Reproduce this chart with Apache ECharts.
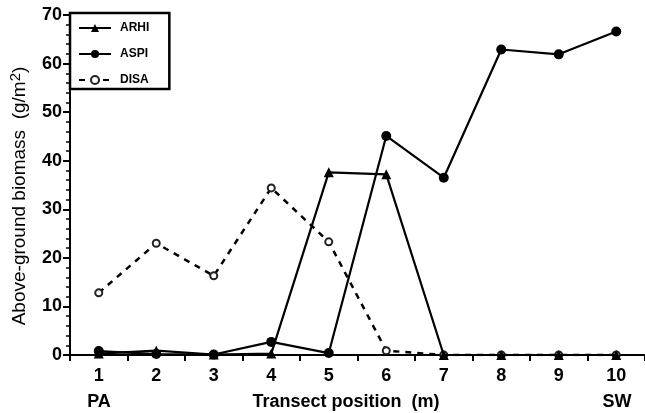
<!DOCTYPE html>
<html>
<head>
<meta charset="utf-8">
<script src="https://cdn.jsdelivr.net/npm/echarts@6/dist/echarts.min.js"></script>
<style>
  html, body { margin: 0; padding: 0; background: #fff; }
  #chart { width: 645px; height: 413px; }
</style>
</head>
<body>
<div id="chart"></div>
<script>
// Transect positions (m) along the x axis
const positions = ['1', '2', '3', '4', '5', '6', '7', '8', '9', '10'];

// Above-ground biomass (g/m2) per species at each position
const arhi = [0.3, 0.9, 0.1, 0.3, 37.6, 37.2, 0, 0, 0, 0];
const aspi = [0.8, 0.2, 0.1, 2.7, 0.4, 45.1, 36.5, 62.9, 61.9, 66.6];
const disa = [12.8, 23.0, 16.3, 34.4, 23.3, 0.9, 0, 0, 0, 0];

// Y-axis range and step
const yMin = 0, yMax = 70, yStep = 10;

const FONT = 'Liberation Sans, Arial, Helvetica, sans-serif';

const chart = echarts.init(document.getElementById('chart'), null, { renderer: 'canvas' });

chart.setOption({
  animation: false,
  backgroundColor: '#fff',
  textStyle: { fontFamily: FONT, color: '#000' },
  grid: { left: 70, right: 0, top: 15, bottom: 58, containLabel: false },
  legend: {
    orient: 'vertical',
    left: 70, top: 13,
    data: ['ARHI', 'ASPI', 'DISA'],
    itemWidth: 32, itemHeight: 10, itemGap: 14,
    padding: [9, 20, 3, 8],
    borderColor: '#000', borderWidth: 2.5, borderRadius: 0,
    backgroundColor: '#fff',
    textStyle: { fontFamily: FONT, fontWeight: 'bold', fontSize: 12, color: '#000', padding: [0, 0, 0, 4] },
    selectedMode: false
  },
  xAxis: {
    type: 'category',
    data: positions,
    boundaryGap: true,
    axisLine: { show: true, lineStyle: { color: '#000', width: 2 } },
    axisTick: { show: true, interval: 0, alignWithLabel: false, length: 6, inside: false,
                lineStyle: { color: '#000', width: 2 } },
    axisLabel: { interval: 0, margin: 12, fontFamily: FONT, fontWeight: 'bold', fontSize: 18, color: '#000' },
    splitLine: { show: false }
  },
  yAxis: {
    type: 'value',
    min: yMin, max: yMax, interval: yStep,
    axisLine: { show: true, lineStyle: { color: '#000', width: 2 } },
    axisTick: { show: true, length: 7, inside: false, lineStyle: { color: '#000', width: 2 } },
    minorTick: { show: true, splitNumber: 5, length: 4, lineStyle: { color: '#000', width: 1.5 } },
    axisLabel: { margin: 8, fontFamily: FONT, fontWeight: 'bold', fontSize: 18, color: '#000' },
    splitLine: { show: false },
    minorSplitLine: { show: false }
  },
  graphic: [
    {
      type: 'text', x: 20, y: 196, rotation: Math.PI / 2,
      style: {
        text: 'Above-ground biomass  (g/m{s|2})',
        fill: '#000', font: '19px ' + FONT,
        align: 'center', verticalAlign: 'middle',
        rich: { s: { fontSize: 15, verticalAlign: 'top', padding: [0, 0, 9, 0], fontFamily: FONT } }
      }
    },
    { type: 'text', x: 99, y: 402, style: { text: 'PA', fill: '#000', font: 'bold 18px ' + FONT, align: 'center', verticalAlign: 'middle' } },
    { type: 'text', x: 346, y: 402, style: { text: 'Transect position  (m)', fill: '#000', font: 'bold 18px ' + FONT, align: 'center', verticalAlign: 'middle' } },
    { type: 'text', x: 617, y: 402, style: { text: 'SW', fill: '#000', font: 'bold 18px ' + FONT, align: 'center', verticalAlign: 'middle' } }
  ],
  series: [
    {
      name: 'DISA', type: 'line', data: disa,
      symbol: 'emptyCircle', symbolSize: 7,
      lineStyle: { color: '#000', width: 2.5, type: [6, 6] },
      itemStyle: { color: '#222', borderWidth: 1 },
      z: 2
    },
    {
      name: 'ARHI', type: 'line', data: arhi,
      symbol: 'triangle', symbolSize: 10,
      lineStyle: { color: '#000', width: 2.2 },
      itemStyle: { color: '#000' },
      z: 3
    },
    {
      name: 'ASPI', type: 'line', data: aspi,
      symbol: 'circle', symbolSize: 10,
      lineStyle: { color: '#000', width: 2.2 },
      itemStyle: { color: '#000' },
      z: 4
    }
  ]
});
</script>
</body>
</html>
